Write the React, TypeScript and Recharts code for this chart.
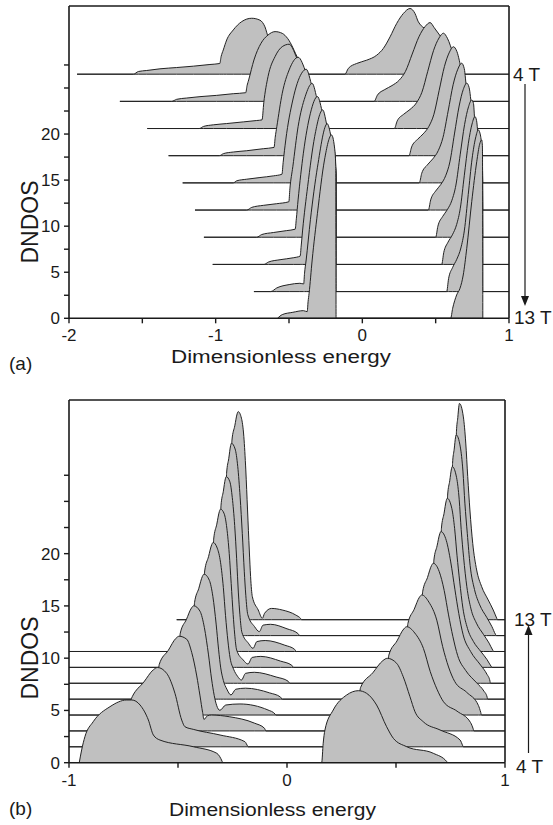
import { ComposedChart, Area, XAxis, YAxis, ReferenceLine } from 'recharts';

// each curve: [energy, DNDOS above its own baseline]
// panel (a), 4 T (top) to 13 T (bottom)
const a4T = [[-1.945,0],[-1.561,0],[-1.527,0.29],[-1.47,0.4],[-1.38,0.58],[-1.266,0.72],[-1.152,0.87],[-1.039,1.05],[-0.972,1.16],[-0.963,1.9],[-0.948,2.63],[-0.925,3.71],[-0.88,4.8],[-0.823,5.7],[-0.754,6.07],[-0.698,5.86],[-0.664,5.14],[-0.641,4.05],[-0.595,3.5],[-0.499,2.4],[-0.438,1.0],[-0.4,0],
  [-0.118,0],[-0.096,0.62],[-0.039,1.16],[0.03,1.52],[0.098,2.06],[0.143,2.79],[0.189,4.05],[0.234,5.5],[0.28,6.59],[0.325,7.13],[0.359,6.59],[0.382,5.68],[0.462,4.6],[0.553,3.5],[0.621,2.0],[0.677,0.4],[0.69,0],[1,0]];
const a5T = [[-1.653,0],[-1.3,0],[-1.266,0.22],[-1.198,0.36],[-1.107,0.51],[-0.993,0.65],[-0.88,0.83],[-0.795,0.94],[-0.786,1.7],[-0.775,2.32],[-0.739,4.49],[-0.691,6.3],[-0.643,7.2],[-0.595,7.57],[-0.546,7.38],[-0.51,6.84],[-0.438,4.6],[-0.383,2.7],[-0.342,1.1],[-0.315,0],
  [0.08,0],[0.103,0.68],[0.153,1.28],[0.202,1.71],[0.252,2.31],[0.294,3.25],[0.34,5.13],[0.386,7.01],[0.428,8.12],[0.462,8.55],[0.49,8.0],[0.553,6.6],[0.621,5.1],[0.677,3.3],[0.712,1.2],[0.735,0],[1,0]];
const a6T = [[-1.466,0],[-1.112,0],[-1.084,0.22],[-1.016,0.4],[-0.925,0.54],[-0.812,0.72],[-0.72,0.87],[-0.684,0.94],[-0.672,2.8],[-0.643,5.64],[-0.595,7.81],[-0.546,8.89],[-0.499,9.15],[-0.438,7.34],[-0.383,5.64],[-0.342,4.12],[-0.306,2.66],[-0.27,1.22],[-0.245,0],
  [0.218,0],[0.238,0.83],[0.282,1.55],[0.325,2.07],[0.369,2.79],[0.406,3.93],[0.446,6.21],[0.486,8.49],[0.523,9.83],[0.553,10.35],[0.58,9.8],[0.621,8.08],[0.677,6.29],[0.712,4.12],[0.746,2.3],[0.768,0.5],[0.775,0],[1,0]];
const a7T = [[-1.321,0],[-0.975,0],[-0.948,0.22],[-0.88,0.4],[-0.788,0.54],[-0.675,0.76],[-0.602,0.9],[-0.594,2.0],[-0.583,3.15],[-0.546,6.78],[-0.499,9.31],[-0.438,10.69],[-0.383,8.99],[-0.342,7.07],[-0.306,5.61],[-0.27,4.17],[-0.239,2.72],[-0.21,1.45],[-0.19,0.15],[-0.186,0],
  [0.318,0],[0.336,0.95],[0.376,1.77],[0.415,2.37],[0.454,3.19],[0.488,4.5],[0.524,7.1],[0.56,9.7],[0.594,11.24],[0.621,11.83],[0.645,11.3],[0.677,9.24],[0.712,7.07],[0.746,5.25],[0.768,3.44],[0.791,2.0],[0.814,0.9],[0.82,0],[1,0]];
const a8T = [[-1.225,0],[-0.88,0],[-0.857,0.22],[-0.788,0.4],[-0.698,0.58],[-0.607,0.76],[-0.548,0.94],[-0.54,2.2],[-0.522,4.66],[-0.474,9.0],[-0.414,11.9],[-0.383,12.34],[-0.342,10.42],[-0.306,8.56],[-0.27,7.12],[-0.239,5.67],[-0.21,4.4],[-0.19,3.1],[-0.181,1.0],[-0.179,0],
  [0.388,0],[0.405,1.04],[0.443,1.95],[0.48,2.6],[0.518,3.51],[0.55,4.94],[0.585,7.79],[0.619,10.65],[0.651,12.34],[0.677,12.99],[0.695,12.4],[0.712,10.0],[0.746,8.2],[0.768,6.4],[0.791,4.95],[0.814,3.86],[0.819,2.0],[0.821,0],[1,0]];
const a9T = [[-1.141,0],[-0.788,0],[-0.754,0.29],[-0.675,0.51],[-0.584,0.69],[-0.501,0.9],[-0.494,2.3],[-0.474,4.7],[-0.438,9.05],[-0.39,12.3],[-0.342,13.75],[-0.306,11.91],[-0.27,10.07],[-0.239,8.62],[-0.21,7.35],[-0.19,6.05],[-0.181,3.9],[-0.179,0],
  [0.45,0],[0.466,1.1],[0.5,2.07],[0.534,2.75],[0.568,3.72],[0.597,5.23],[0.628,8.26],[0.66,11.29],[0.688,13.08],[0.712,13.77],[0.728,13.3],[0.746,11.15],[0.768,9.34],[0.791,7.9],[0.814,6.8],[0.819,5.0],[0.821,0],[1,0]];
const a10T = [[-1.08,0],[-0.72,0],[-0.686,0.29],[-0.607,0.51],[-0.516,0.72],[-0.458,0.87],[-0.45,2.0],[-0.438,4.05],[-0.402,9.12],[-0.354,13.46],[-0.306,15.27],[-0.27,13.42],[-0.239,11.57],[-0.21,10.3],[-0.19,9.0],[-0.181,6.9],[-0.179,0],
  [0.5,0],[0.515,1.19],[0.547,2.24],[0.579,2.98],[0.611,4.02],[0.638,5.66],[0.667,8.94],[0.697,12.22],[0.724,14.16],[0.746,14.9],[0.758,14.5],[0.768,12.3],[0.791,10.85],[0.814,9.76],[0.819,7.9],[0.821,0],[1,0]];
const a11T = [[-1.02,0],[-0.67,0],[-0.641,0.25],[-0.561,0.51],[-0.471,0.72],[-0.424,0.9],[-0.417,2.0],[-0.407,3.73],[-0.373,8.44],[-0.325,13.87],[-0.27,16.77],[-0.239,14.92],[-0.21,13.25],[-0.19,11.95],[-0.181,9.85],[-0.179,0],
  [0.541,0],[0.555,1.28],[0.584,2.41],[0.614,3.21],[0.643,4.33],[0.668,6.1],[0.695,9.62],[0.723,13.15],[0.748,15.24],[0.768,16.04],[0.779,15.6],[0.791,13.8],[0.814,12.7],[0.819,10.9],[0.821,0],[1,0]];
const a12T = [[-0.739,0],[-0.625,0],[-0.583,0.4],[-0.499,0.76],[-0.426,0.9],[-0.4,0.83],[-0.394,2.0],[-0.383,3.43],[-0.354,7.8],[-0.306,13.5],[-0.239,18.22],[-0.21,16.6],[-0.19,15.3],[-0.181,13.2],[-0.179,0],
  [0.575,0],[0.588,1.4],[0.616,2.63],[0.644,3.51],[0.672,4.74],[0.696,6.67],[0.722,10.53],[0.748,14.39],[0.772,16.67],[0.791,17.55],[0.802,17.2],[0.814,15.7],[0.819,14.0],[0.821,0],[1,0]];
const a13T = [[-0.578,0],[-0.546,0.4],[-0.474,0.65],[-0.402,0.83],[-0.376,0.72],[-0.37,1.8],[-0.363,2.71],[-0.342,6.33],[-0.306,11.4],[-0.258,17.19],[-0.21,19.9],[-0.19,18.6],[-0.181,16.5],[-0.179,0],
  [0.602,0],[0.616,1.09],[0.643,2.53],[0.666,3.26],[0.688,4.7],[0.712,7.6],[0.746,12.67],[0.78,17.0],[0.8,18.9],[0.814,19.36],[0.819,18.6],[0.8215,0]];
const aOffsets = [26.5, 23.55, 20.6, 17.65, 14.7, 11.75, 8.8, 5.85, 2.9, 0];

// panel (b), 4 T (bottom) to 13 T (top)
const b4T = [[-0.953,0],[-0.942,1.22],[-0.927,2.49],[-0.889,3.92],[-0.812,5.36],[-0.735,6.0],[-0.712,6.0],[-0.674,5.52],[-0.636,4.09],[-0.613,2.65],[-0.583,2.17],[-0.43,1.53],[-0.322,0.9],[-0.297,0.1],[-0.295,0],
  [0.159,0],[0.166,1.86],[0.174,3.13],[0.212,5.04],[0.274,6.48],[0.327,6.89],[0.365,6.64],[0.411,5.52],[0.457,3.44],[0.488,2.33],[0.549,1.53],[0.671,0.9],[0.733,0.1],[0.735,0],[1,0]];
const b5T = [[-1,0],[-0.915,0],[-0.889,1.2],[-0.812,2.8],[-0.735,3.5],[-0.71,4.79],[-0.657,6.19],[-0.613,7.37],[-0.594,7.59],[-0.552,7.03],[-0.514,5.12],[-0.483,2.56],[-0.468,1.92],[-0.43,1.67],[-0.307,1.13],[-0.193,0.49],[-0.18,0.05],[-0.178,0],
  [0.185,0],[0.212,2.52],[0.274,3.96],[0.327,4.37],[0.3376,5.68],[0.3935,7.08],[0.44,8.25],[0.46,8.47],[0.503,7.99],[0.533,6.71],[0.564,4.8],[0.587,3.36],[0.625,2.4],[0.702,1.61],[0.794,0.65],[0.806,0.1],[0.808,0],[1,0]];
const b6T = [[-1,0],[-0.86,0],[-0.812,1.3],[-0.72,1.96],[-0.657,3.67],[-0.594,5.07],[-0.586,6.37],[-0.5445,7.71],[-0.51,8.85],[-0.495,9.06],[-0.46,8.77],[-0.437,7.5],[-0.414,5.26],[-0.399,3.35],[-0.387,1.76],[-0.381,1.1],[-0.365,1.45],[-0.346,1.52],[-0.265,1.36],[-0.15,0.75],[-0.103,0.25],[-0.097,0],
  [0.19,0],[0.212,1.0],[0.274,2.44],[0.327,2.85],[0.3935,4.56],[0.46,5.95],[0.4671,7.25],[0.5045,8.61],[0.5357,9.76],[0.549,9.97],[0.586,9.37],[0.626,7.88],[0.657,5.68],[0.688,3.99],[0.718,2.79],[0.78,1.89],[0.842,0.8],[0.854,0.2],[0.857,0],[1,0]];
const b7T = [[-1,0],[-0.76,0],[-0.72,0.44],[-0.657,2.15],[-0.594,3.55],[-0.545,5.19],[-0.495,6.54],[-0.4896,7.83],[-0.4615,9.14],[-0.438,10.25],[-0.428,10.45],[-0.399,9.93],[-0.379,8.36],[-0.36,5.75],[-0.346,3.45],[-0.334,1.88],[-0.323,0.94],[-0.308,0.45],[-0.281,0.96],[-0.216,1.06],[-0.087,0.48],[-0.055,0.1],[-0.051,0],
  [0.23,0],[0.274,0.92],[0.327,1.33],[0.3935,3.04],[0.46,4.43],[0.5045,6.09],[0.549,7.45],[0.5545,8.75],[0.5835,10.12],[0.6077,11.28],[0.618,11.49],[0.651,10.8],[0.687,9.08],[0.714,6.55],[0.741,4.6],[0.769,3.22],[0.824,2.18],[0.878,0.92],[0.889,0.23],[0.892,0],[1,0]];
const b8T = [[-1,0],[-0.68,0],[-0.657,0.63],[-0.594,2.03],[-0.545,3.67],[-0.495,5.02],[-0.4615,6.62],[-0.428,7.93],[-0.4242,9.23],[-0.4045,10.6],[-0.388,11.75],[-0.381,11.96],[-0.356,11.36],[-0.34,9.81],[-0.325,7.18],[-0.314,4.78],[-0.304,2.99],[-0.292,1.79],[-0.276,0.96],[-0.257,0.4],[-0.235,0.95],[-0.19,1.05],[-0.08,0.6],[-0.03,0.2],[-0.022,0],
  [0.33,0],[0.3935,1.52],[0.46,2.91],[0.5045,4.57],[0.549,5.93],[0.5835,7.6],[0.618,8.97],[0.6222,10.27],[0.6445,11.64],[0.6631,12.79],[0.671,13.0],[0.698,12.22],[0.721,10.4],[0.741,8.06],[0.761,5.98],[0.783,4.16],[0.82,2.73],[0.87,1.56],[0.903,0.78],[0.918,0.2],[0.92,0],[1,0]];
const b9T = [[-1,0],[-0.62,0],[-0.594,0.51],[-0.545,2.15],[-0.495,3.5],[-0.4615,5.1],[-0.428,6.41],[-0.4045,8.08],[-0.381,9.44],[-0.3776,10.74],[-0.36,12.11],[-0.3453,13.26],[-0.339,13.47],[-0.32,12.93],[-0.305,11.58],[-0.292,9.16],[-0.282,6.47],[-0.271,4.04],[-0.261,2.42],[-0.245,1.35],[-0.227,0.67],[-0.209,0.31],[-0.19,0.95],[-0.15,1.05],[-0.05,0.6],[0.005,0.2],[0.013,0],
  [0.4,0],[0.46,1.39],[0.5045,3.05],[0.549,4.41],[0.5835,6.08],[0.618,7.45],[0.6445,9.12],[0.671,10.48],[0.6738,11.78],[0.6885,13.15],[0.7008,14.3],[0.706,14.51],[0.731,13.64],[0.751,11.61],[0.77,9.0],[0.788,6.67],[0.808,4.64],[0.842,3.05],[0.888,1.74],[0.917,0.87],[0.931,0.22],[0.933,0],[1,0]];
const b10T = [[-1,0],[-0.56,0],[-0.545,0.63],[-0.495,1.98],[-0.4615,3.58],[-0.428,4.89],[-0.4045,6.56],[-0.381,7.92],[-0.36,9.59],[-0.339,10.95],[-0.3363,12.27],[-0.322,13.7],[-0.3101,14.92],[-0.305,15.14],[-0.288,14.69],[-0.276,13.32],[-0.265,10.9],[-0.256,8.02],[-0.247,5.07],[-0.24,3.18],[-0.231,1.67],[-0.201,0.71],[-0.179,0.32],[-0.16,0.95],[-0.12,1.05],[-0.03,0.6],[0.022,0.2],[0.03,0],
  [0.465,0],[0.5045,1.53],[0.549,2.89],[0.5835,4.56],[0.618,5.93],[0.6445,7.6],[0.671,8.96],[0.6885,10.63],[0.706,11.99],[0.7083,13.31],[0.7205,14.74],[0.7307,15.96],[0.735,16.18],[0.756,15.21],[0.769,13.27],[0.78,10.68],[0.792,8.25],[0.807,5.66],[0.828,3.72],[0.855,2.48],[0.891,1.47],[0.918,0.73],[0.936,0.11],[0.94,0],[1,0]];
const b11T = [[-1,0],[-0.52,0],[-0.495,0.46],[-0.4615,2.06],[-0.428,3.37],[-0.4045,5.04],[-0.381,6.4],[-0.36,8.07],[-0.339,9.43],[-0.322,11.18],[-0.305,12.62],[-0.3029,13.93],[-0.292,15.33],[-0.2829,16.51],[-0.279,16.73],[-0.262,16.23],[-0.251,14.72],[-0.24,12.05],[-0.231,8.87],[-0.223,5.6],[-0.216,3.51],[-0.207,1.84],[-0.177,0.79],[-0.156,0.3],[-0.138,0.95],[-0.1,1.05],[-0.01,0.6],[0.035,0.2],[0.043,0],
  [0.51,0],[0.549,1.37],[0.5835,3.04],[0.618,4.41],[0.6445,6.08],[0.671,7.44],[0.6885,9.11],[0.706,10.47],[0.7205,12.22],[0.735,13.66],[0.7368,14.96],[0.7465,16.33],[0.7546,17.48],[0.758,17.69],[0.778,16.63],[0.79,14.51],[0.799,11.68],[0.81,9.02],[0.825,6.19],[0.844,4.07],[0.869,2.71],[0.902,1.61],[0.927,0.8],[0.944,0.12],[0.948,0],[1,0]];
const b12T = [[-0.475,0],[-0.4615,0.54],[-0.428,1.85],[-0.4045,3.52],[-0.381,4.88],[-0.36,6.55],[-0.339,7.91],[-0.322,9.66],[-0.305,11.1],[-0.292,12.81],[-0.279,14.21],[-0.2771,15.53],[-0.267,16.96],[-0.2586,18.18],[-0.255,18.4],[-0.238,17.85],[-0.226,16.19],[-0.215,13.25],[-0.205,9.75],[-0.196,6.16],[-0.189,3.86],[-0.18,2.02],[-0.149,0.86],[-0.127,0.38],[-0.11,1.0],[-0.075,1.08],[0.0,0.65],[0.05,0.2],[0.059,0],
  [0.553,0],[0.5835,1.52],[0.618,2.89],[0.6445,4.56],[0.671,5.92],[0.6885,7.59],[0.706,8.95],[0.7205,10.7],[0.735,12.14],[0.7465,13.81],[0.758,15.17],[0.7594,16.47],[0.767,17.84],[0.7733,18.99],[0.776,19.2],[0.795,18.05],[0.807,15.74],[0.816,12.67],[0.827,9.79],[0.84,6.72],[0.86,4.42],[0.884,2.94],[0.916,1.75],[0.94,0.86],[0.956,0.13],[0.96,0],[1,0]];
const b13T = [[-0.506,0],[-0.45,0],[-0.428,0.33],[-0.4045,2.0],[-0.381,3.36],[-0.36,5.03],[-0.339,6.39],[-0.322,8.14],[-0.305,9.58],[-0.292,11.29],[-0.279,12.69],[-0.267,14.44],[-0.255,15.88],[-0.2525,17.18],[-0.2395,18.55],[-0.2287,19.7],[-0.224,19.91],[-0.209,19.28],[-0.198,17.52],[-0.189,14.33],[-0.181,10.5],[-0.173,6.67],[-0.167,4.12],[-0.159,2.21],[-0.132,0.93],[-0.113,0.14],[-0.103,0.61],[-0.071,1.08],[-0.022,0.93],[0.04,0.45],[0.062,0.13],[0.067,0],
  [0.59,0],[0.618,1.37],[0.6445,3.04],[0.671,4.4],[0.6885,6.07],[0.706,7.43],[0.7205,9.18],[0.735,10.62],[0.7465,12.29],[0.758,13.65],[0.767,15.32],[0.776,16.68],[0.7772,17.98],[0.7835,19.34],[0.7888,20.49],[0.791,20.69],[0.809,19.4],[0.82,16.9],[0.829,13.7],[0.839,10.5],[0.852,7.3],[0.87,4.76],[0.893,3.16],[0.923,1.89],[0.946,0.93],[0.962,0.14],[0.965,0],[1,0]];
const bOffsets = [0, 1.52, 3.04, 4.56, 6.08, 7.6, 9.12, 10.64, 12.16, 13.68];

const aXTicks = [-2, -1.5, -1, -0.5, 0, 0.5, 1];
const bXTicks = [-1, -0.5, 0, 0.5, 1];
const yTicks = [0, 2.5, 5, 7.5, 10, 12.5, 15, 17.5, 20, 22.5, 25, 27.5];

const FONT = "'Liberation Sans', Arial, sans-serif";
const INK = '#1a1a1a';
const FILL = '#c0c0c0';

type Pt = number[];

function Panel({ curves, offsets, xDomain, xTicks, yTop, height, margin }: {
  curves: Pt[][]; offsets: number[]; xDomain: [number, number]; xTicks: number[];
  yTop: number; height: number; margin: { top: number; right: number; bottom: number; left: number };
}) {
  const tickStyle = { fontSize: 17, fill: INK, fontFamily: FONT };
  return (
    <ComposedChart width={553} height={height} margin={margin}>
      <XAxis
        dataKey="x" type="number" domain={xDomain} ticks={xTicks} allowDataOverflow
        tickFormatter={(v: number) => (Number.isInteger(v) ? String(v) : '')}
        tick={tickStyle} tickSize={5} tickMargin={6} height={30}
        axisLine={{ stroke: INK, strokeWidth: 1.6 }} tickLine={{ stroke: INK, strokeWidth: 1.4 }}
      />
      <YAxis
        type="number" domain={[0, yTop]} ticks={yTicks} allowDataOverflow
        tickFormatter={(v: number) => (v % 5 === 0 && v <= 20 ? String(v) : '')}
        tick={tickStyle} tickSize={5} tickMargin={4} width={60}
        axisLine={{ stroke: INK, strokeWidth: 1.6 }} tickLine={{ stroke: INK, strokeWidth: 1.4 }}
      />
      {curves.map((pts, i) => (
        <Area
          key={i}
          data={pts.map(([x, v]) => ({ x, v }))}
          dataKey={(d: { v: number }) => [offsets[i], offsets[i] + d.v]}
          type="monotone"
          fill={FILL}
          fillOpacity={1}
          stroke="#222"
          strokeWidth={1}
          dot={false}
          activeDot={false}
          isAnimationActive={false}
        />
      ))}
      <ReferenceLine x={xDomain[1]} stroke={INK} strokeWidth={1.6} />
      <ReferenceLine y={yTop} stroke={INK} strokeWidth={1.6} />
    </ComposedChart>
  );
}

export default function App() {
  const txt = { fontFamily: FONT, fill: INK } as const;
  return (
    <div style={{ position: 'absolute', left: 0, top: 0, width: 553, height: 825, background: '#fff' }}>
      <div style={{ position: 'absolute', left: 0, top: 0 }}>
        <Panel
          curves={[a4T, a5T, a6T, a7T, a8T, a9T, a10T, a11T, a12T, a13T]}
          offsets={aOffsets}
          xDomain={[-2, 1]}
          xTicks={aXTicks}
          yTop={33.9}
          height={400}
          margin={{ top: 6, right: 44, bottom: 51.7, left: 9 }}
        />
      </div>
      <div style={{ position: 'absolute', left: 0, top: 394 }}>
        <Panel
          curves={[b13T, b12T, b11T, b10T, b9T, b8T, b7T, b6T, b5T, b4T]}
          offsets={[...bOffsets].reverse()}
          xDomain={[-1, 1]}
          xTicks={bXTicks}
          yTop={34.7}
          height={431}
          margin={{ top: 6, right: 48, bottom: 32.3, left: 9 }}
        />
      </div>
      <svg width={553} height={825} style={{ position: 'absolute', left: 0, top: 0, pointerEvents: 'none' }}>
        <text {...txt} fontSize={23} textAnchor="middle" transform="translate(38,222) rotate(-90)">DNDOS</text>
        <text {...txt} fontSize={18} x={171} y={363} textLength={220} lengthAdjust="spacingAndGlyphs">Dimensionless energy</text>
        <text {...txt} fontSize={19} x={9} y={370}>(a)</text>
        <text {...txt} fontSize={19} x={513} y={81}>4 T</text>
        <text {...txt} fontSize={19} x={514} y={324}>13 T</text>
        <line x1={525} y1={84} x2={525} y2={298} stroke={INK} strokeWidth={1.2} />
        <polygon points="521,296 529,296 525,306" fill={INK} />

        <text {...txt} fontSize={23} textAnchor="middle" transform="translate(38,658) rotate(-90)">DNDOS</text>
        <text {...txt} fontSize={18} x={169} y={816} textLength={207} lengthAdjust="spacingAndGlyphs">Dimensionless energy</text>
        <text {...txt} fontSize={19} x={9} y={815}>(b)</text>
        <text {...txt} fontSize={19} x={514} y={626}>13 T</text>
        <text {...txt} fontSize={19} x={516} y={773}>4 T</text>
        <line x1={528.5} y1={753} x2={528.5} y2={633} stroke={INK} strokeWidth={1.2} />
        <polygon points="524.5,635 532.5,635 528.5,625" fill={INK} />
      </svg>
    </div>
  );
}
